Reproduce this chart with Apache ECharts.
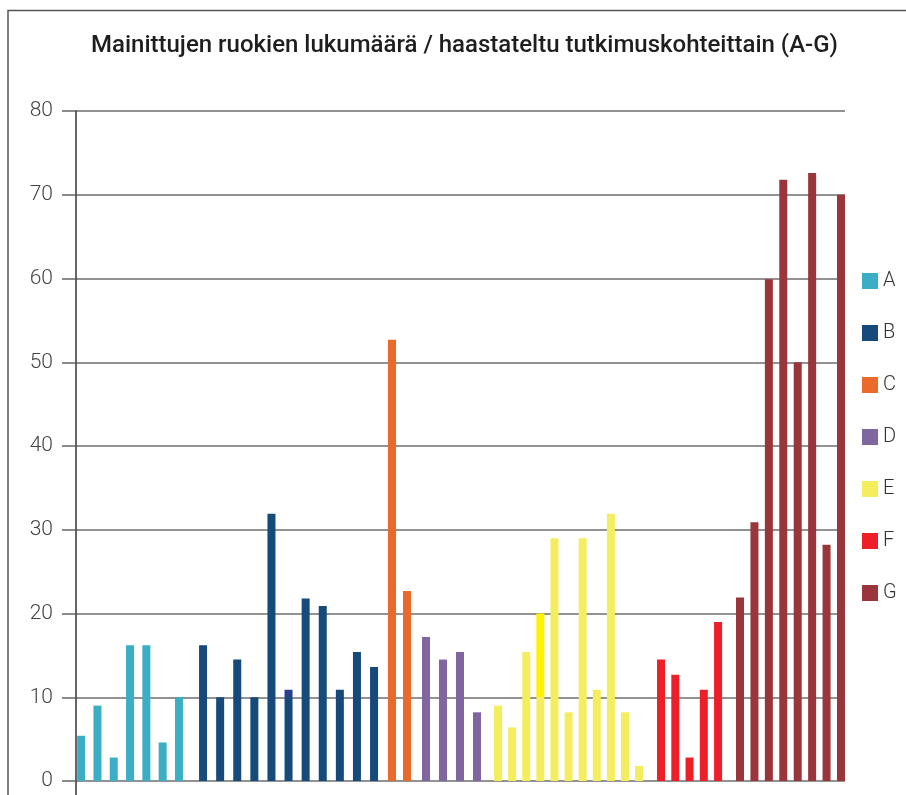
<!DOCTYPE html>
<html>
<head>
<meta charset="utf-8">
<script src="https://cdn.jsdelivr.net/npm/echarts@6/dist/echarts.min.js"></script>
<style>
  html, body { margin:0; padding:0; background:#fff; }
  #chart { width:906px; height:795px; }
</style>
</head>
<body>
<div id="chart"></div>
<script>
// tutkimuskohteet A-G, jokaisella oma määrä haastateltuja
const groupNames = ['A','B','C','D','E','F','G'];
const valuesA = [5.4, 9.0, 2.8, 16.2, 16.2, 4.6, 10.0];
const valuesB = [16.2, 10.0, 14.5, 10.0, 31.9, 10.9, 21.8, 20.9, 10.9, 15.4, 13.6];
const valuesC = [52.7, 22.7];
const valuesD = [17.2, 14.5, 15.4, 8.2];
const valuesE = [9.0, 6.4, 15.4, 20.0, 29.0, 8.2, 29.0, 10.9, 31.9, 8.2, 1.8];
const valuesF = [14.5, 12.7, 2.8, 10.9, 19.0];
const valuesG = [21.9, 30.9, 59.9, 71.8, 50.0, 72.6, 28.2, 70.0];
const yTicks = [0, 10, 20, 30, 40, 50, 60, 70, 80];

const groupValues = [valuesA, valuesB, valuesC, valuesD, valuesE, valuesF, valuesG];
const colors = ['#3badc5', '#154a7b', '#ea6a2b', '#8066a0', '#f4ed5e', '#ee1f28', '#99353b'];
// bars where the part above 10 is drawn in another tone
const twoTone = { 1: { index: 5, color: '#2b3f8f' }, 4: { index: 3, color: '#fff200' } };

// horizontal placement of each group (px): left edge and width
const groupLeft  = [73.0, 194.5, 384.5, 417.5, 491.0, 653.9, 732.8];
const groupWidth = [114.1, 188.1, 30.0, 68.0, 155.1, 71.3, 115.4];

const plotTop = 111, plotBottom = 14;

const grids = [{ left:76, right:61, top:plotTop, bottom:plotBottom }];
const xAxes = [{ type:'value', gridIndex:0, show:false }];
const yAxes = [{
    type:'value', gridIndex:0, min:0, max:80, interval:10,
    axisLine:{ show:true, lineStyle:{ color:'#333', width:1.5 } },
    axisTick:{ show:true, inside:false, length:14, lineStyle:{ color:'#666', width:1.5 } },
    axisLabel:{ margin:23, color:'#444', fontSize:21, fontWeight:300, fontFamily:'Roboto, sans-serif',
        formatter: v => yTicks.includes(v) ? String(v) : '' },
    splitLine:{ show:true, lineStyle:{ color:'#6e6e6e', width:1.5 } }
}];
const series = [];

groupValues.forEach((vals, g) => {
    const idx = g + 1;
    grids.push({ left:groupLeft[g], width:groupWidth[g], top:plotTop, bottom:plotBottom });
    xAxes.push({ type:'category', gridIndex:idx, show:false,
        data: vals.map((v, i) => groupNames[g] + (i + 1)) });
    yAxes.push({ type:'value', gridIndex:idx, min:0, max:80, show:false });
    const tt = twoTone[g];
    series.push({
        name: groupNames[g],
        type:'bar',
        xAxisIndex: idx,
        yAxisIndex: idx,
        barWidth: 8,
        itemStyle:{ color: colors[g] },
        data: vals.map((v, i) => {
            if (tt && tt.index === i) {
                const cut = (v - 10) / v;
                return { value: v, itemStyle:{ color: new echarts.graphic.LinearGradient(0, 0, 0, 1, [
                    { offset:0, color:tt.color }, { offset:cut, color:tt.color },
                    { offset:cut, color:colors[g] }, { offset:1, color:colors[g] }
                ]) } };
            }
            return v;
        })
    });
});

const myChart = echarts.init(document.getElementById('chart'));
const option = {
    animation:false,
    title:{
        text:'Mainittujen ruokien lukumäärä / haastateltu tutkimuskohteittain (A-G)',
        left:86, top:29,
        textStyle:{ fontSize:24, fontWeight:500, color:'#1e1e1e', fontFamily:'Roboto, sans-serif' }
    },
    legend:{
        orient:'vertical', left:862, top:271, padding:0,
        itemWidth:16, itemHeight:16, itemGap:32, icon:'rect',
        data: groupNames,
        textStyle:{ fontSize:20, lineHeight:16, fontWeight:300, color:'#333', fontFamily:'Roboto, sans-serif' }
    },
    graphic:[
        { type:'polyline', silent:true, shape:{ points:[[8, 800], [8, 10.5], [910, 10.5]] },
          style:{ stroke:'#555', lineWidth:1.5, fill:null } },
        { type:'line', silent:true, shape:{ x1:76, y1:781, x2:76, y2:795 },
          style:{ stroke:'#333', lineWidth:1.5 } }
    ],
    grid: grids,
    xAxis: xAxes,
    yAxis: yAxes,
    series: series
};
myChart.setOption(option);
</script>
</body>
</html>
